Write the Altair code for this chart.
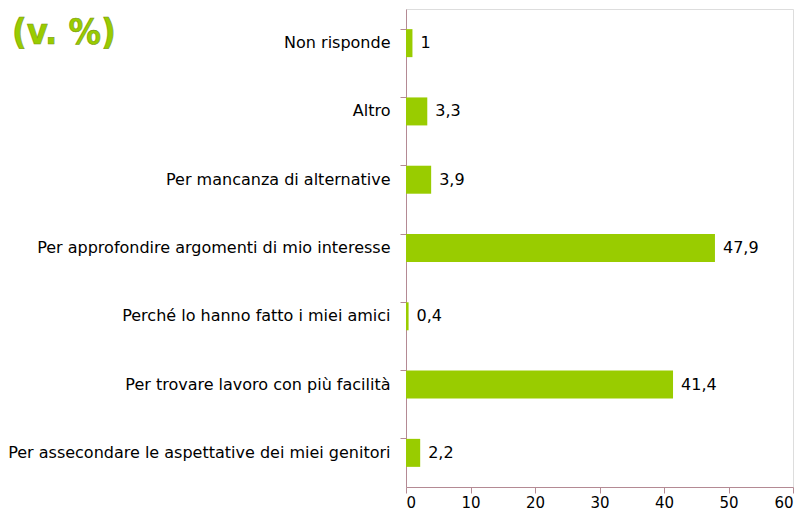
import altair as alt
import pandas as pd

categories = [
    "Non risponde",
    "Altro",
    "Per mancanza di alternative",
    "Per approfondire argomenti di mio interesse",
    "Perché lo hanno fatto i miei amici",
    "Per trovare lavoro con più facilità",
    "Per assecondare le aspettative dei miei genitori",
]
values = [1.0, 3.3, 3.9, 47.9, 0.4, 41.4, 2.2]
labels = ["1", "3,3", "3,9", "47,9", "0,4", "41,4", "2,2"]
ticks = [0, 10, 20, 30, 40, 50, 60]

df = pd.DataFrame({"cat": categories, "val": values, "lab": labels})

AXIS_COLOR = "#B48A94"
GREEN = "#99CC00"
FONT = "DejaVu Sans"
FS = 16

y_enc = alt.Y(
    "cat:N",
    sort=categories,
    title=None,
    scale=alt.Scale(paddingInner=0.59, paddingOuter=0.295),
    axis=alt.Axis(
        bandPosition=0,
        domainColor=AXIS_COLOR,
        tickColor=AXIS_COLOR,
        tickSize=6,
        labelFont=FONT,
        labelFontSize=FS,
        labelColor="#000000",
        labelPadding=10,
        labelLimit=500,
        grid=False,
    ),
)

x_enc = alt.X(
    "val:Q",
    title=None,
    scale=alt.Scale(domain=[0, 60], nice=False),
    axis=alt.Axis(
        values=ticks,
        domainColor=AXIS_COLOR,
        tickColor=AXIS_COLOR,
        tickSize=6,
        labelFont=FONT,
        labelFontSize=15,
        labelColor="#000000",
        labelPadding=2,
        grid=False,
    ),
)

bars = alt.Chart(df).mark_bar(color=GREEN).encode(x=x_enc, y=y_enc)

text = alt.Chart(df).mark_text(
    align="left", baseline="middle", dx=8, font=FONT, fontSize=FS, color="#000000"
).encode(x="val:Q", y=alt.Y("cat:N", sort=categories), text="lab:N")

title_df = pd.DataFrame({"t": ["(v. %)"]})
title_mark = alt.Chart(title_df).mark_text(
    align="left", baseline="alphabetic", font="DejaVu Sans Condensed",
    fontSize=36, fontWeight="bold", color=GREEN,
    stroke="#7A9A10", strokeWidth=0.6,
).encode(x=alt.value(-394), y=alt.value(35), text="t:N")

chart = alt.layer(bars, text, title_mark).properties(
    width=387,
    height=478,
    autosize=alt.AutoSizeParams(type="none"),
    padding={"left": 398, "top": 1, "right": 5, "bottom": 25},
).configure_view(stroke=None).configure(background="#FFFFFF")

chart.save("out.html", embed_options={"renderer": "svg", "actions": False})
